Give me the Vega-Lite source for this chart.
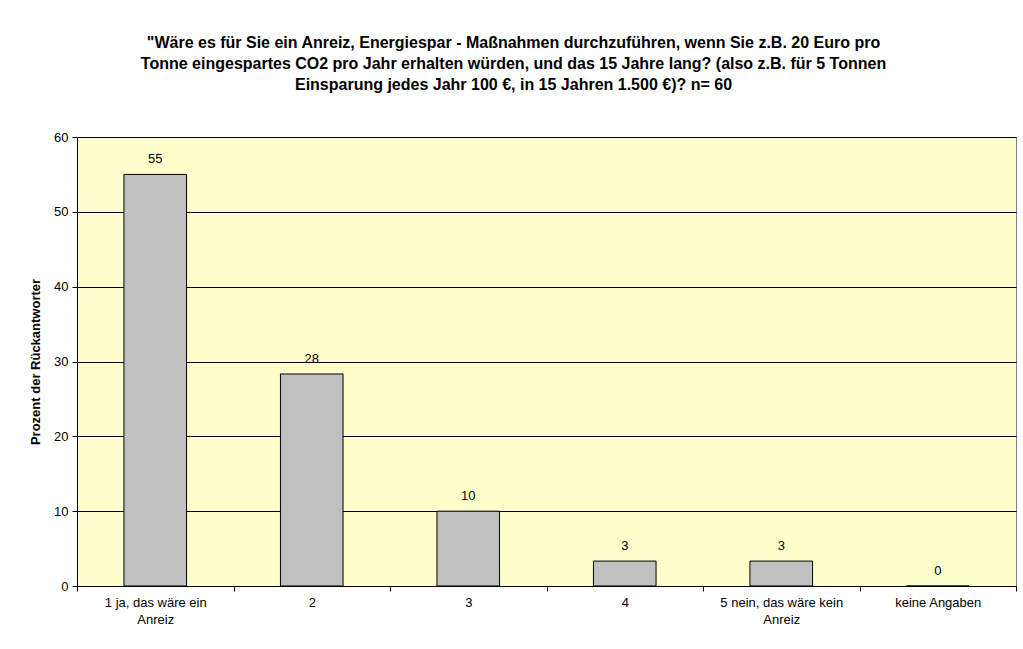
{
  "$schema": "https://vega.github.io/schema/vega-lite/v6.json",
  "width": 939,
  "height": 449,
  "autosize": {"type": "none"},
  "padding": {"left": 77, "top": 137, "right": 7, "bottom": 63},
  "background": "white",
  "title": {
    "text": [
      "\"Wäre es für Sie ein Anreiz, Energiespar - Maßnahmen durchzuführen, wenn Sie z.B. 20 Euro pro",
      "Tonne eingespartes CO2 pro Jahr erhalten würden, und das 15 Jahre lang? (also z.B. für 5 Tonnen",
      "Einsparung  jedes Jahr 100 €, in 15 Jahren 1.500 €)? n= 60"
    ],
    "font": "Liberation Sans",
    "fontSize": 16,
    "fontWeight": "bold",
    "color": "#000000",
    "anchor": "middle",
    "frame": "group",
    "dx": -33,
    "offset": 38,
    "lineHeight": 21
  },
  "data": {
    "values": [
      {"antwort": "1 ja, das wäre ein Anreiz", "prozent": 55},
      {"antwort": "2", "prozent": 28.33},
      {"antwort": "3", "prozent": 10},
      {"antwort": "4", "prozent": 3.33},
      {"antwort": "5 nein, das wäre kein Anreiz", "prozent": 3.33},
      {"antwort": "keine Angaben", "prozent": 0}
    ]
  },
  "encoding": {
    "x": {
      "field": "antwort",
      "type": "nominal",
      "sort": null,
      "scale": {"paddingInner": 0, "paddingOuter": 0},
      "axis": {
        "title": null,
        "labelAngle": 0,
        "tickBand": "extent",
        "tickSize": 5,
        "tickColor": "#000000",
        "domainColor": "#000000",
        "labelFont": "Liberation Sans",
        "labelFontSize": 13,
        "labelColor": "#000000",
        "labelPadding": 5,
        "labelLineHeight": 17,
        "labelExpr": "datum.value == '1 ja, das wäre ein Anreiz' ? ['1 ja, das wäre ein', 'Anreiz'] : datum.value == '5 nein, das wäre kein Anreiz' ? ['5 nein, das wäre kein', 'Anreiz'] : datum.value"
      }
    },
    "y": {
      "field": "prozent",
      "type": "quantitative",
      "scale": {"domain": [0, 60]},
      "axis": {
        "values": [0, 10, 20, 30, 40, 50, 60],
        "grid": true,
        "gridColor": "#000000",
        "gridWidth": 1,
        "tickSize": 5,
        "tickColor": "#000000",
        "domainColor": "#000000",
        "labelFont": "Liberation Sans",
        "labelFontSize": 13,
        "labelColor": "#000000",
        "labelPadding": 4,
        "title": "Prozent der Rückantworter",
        "titleFont": "Liberation Sans",
        "titleFontSize": 13,
        "titleFontWeight": "bold",
        "titleColor": "#000000",
        "titlePadding": 11
      }
    }
  },
  "layer": [
    {
      "mark": {
        "type": "bar",
        "width": {"band": 0.4},
        "fill": "#C0C0C0",
        "stroke": "#000000",
        "strokeWidth": 1
      }
    },
    {
      "mark": {
        "type": "text",
        "baseline": "bottom",
        "dy": -8,
        "font": "Liberation Sans",
        "fontSize": 13,
        "color": "#000000"
      },
      "encoding": {
        "text": {"field": "prozent", "type": "quantitative", "format": ".0f"}
      }
    }
  ],
  "config": {
    "view": {"fill": "#FFFFCC", "stroke": "#808080", "strokeWidth": 1}
  }
}
